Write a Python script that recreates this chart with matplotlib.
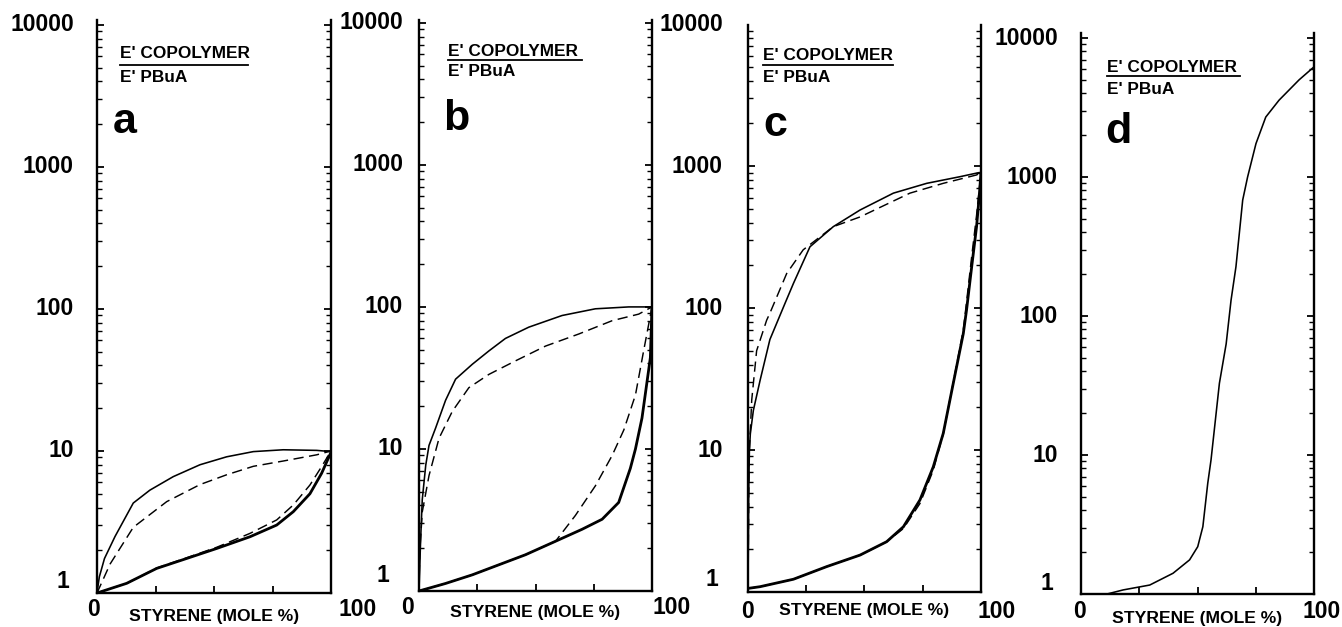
import matplotlib
matplotlib.use("Agg")
import matplotlib.pyplot as plt
from matplotlib.ticker import FixedLocator, LogLocator, NullFormatter, NullLocator

W, H = 1342, 627
plt.rcParams['font.family'] = ['Liberation Sans', 'DejaVu Sans']

# ---------------- data: modulus ratio E'(copolymer)/E'(PBuA) vs styrene mole % ----------------
# panel a
a_up_solid_x = [0, 1, 3.2, 7.7, 15.5, 22.6, 32.6, 44, 55.4, 66.8, 79.6, 93.9, 100]
a_up_solid_y = [1.0, 1.3, 1.75, 2.5, 4.3, 5.3, 6.6, 8.0, 9.1, 9.9, 10.2, 10.1, 9.9]
a_up_dash_x = [0, 5.6, 15.5, 29.8, 44, 55.4, 66.8, 79.6, 93.9, 100]
a_up_dash_y = [1.0, 1.6, 2.9, 4.4, 5.8, 6.8, 7.8, 8.5, 9.4, 10.0]
a_lo_solid_x = [0, 12.7, 25.5, 38.3, 51.2, 65.4, 76.8, 83.9, 91, 96, 100]
a_lo_solid_y = [1.0, 1.17, 1.49, 1.75, 2.06, 2.49, 3.01, 3.74, 5.0, 6.97, 9.8]
a_lo_dash_x = [0, 12.7, 25.5, 38.3, 51.2, 65.4, 76.8, 83.9, 91, 96, 100]
a_lo_dash_y = [1.0, 1.17, 1.5, 1.77, 2.1, 2.63, 3.27, 4.17, 5.76, 7.77, 10.0]

# panel b
b_up_solid_x = [0, 0.7, 1.4, 2.9, 4.3, 7.1, 11.4, 15.7, 22.9, 30, 37.1, 47.1, 61.4, 75.7, 90, 100]
b_up_solid_y = [1.0, 2.3, 4.4, 7.7, 10.6, 14, 22, 31, 39.5, 49, 60, 72, 87, 97, 100, 100]
b_up_dash_x = [0, 0.3, 1.4, 4.3, 8.6, 14.3, 21.4, 30, 41.4, 54.3, 68.6, 82.9, 94.3, 100]
b_up_dash_y = [1.0, 1.85, 3.6, 6.5, 11.9, 18.4, 27, 33.5, 41.7, 53, 64.5, 80, 89, 100]
b_lo_solid_x = [0, 11.4, 22.9, 34.3, 45.7, 58.6, 70, 78.6, 85.7, 90.7, 92.9, 95.7, 97.9, 99.3, 100]
b_lo_solid_y = [1.0, 1.13, 1.30, 1.53, 1.80, 2.24, 2.72, 3.2, 4.2, 7.3, 10, 16.5, 30, 44, 100]
b_lo_dash_x = [0, 11.4, 22.9, 34.3, 45.7, 58.6, 67.1, 75.7, 82.9, 87.9, 92.9, 96.4, 100]
b_lo_dash_y = [1.0, 1.13, 1.30, 1.53, 1.80, 2.24, 3.4, 5.5, 9.0, 13.6, 24, 49, 100]

# panel c
c_up_solid_x = [0, 0.3, 0.6, 1.0, 2.3, 5.2, 9.4, 15.9, 19.5, 26.6, 36.6, 48.1, 62.4, 76.7, 91, 98.9, 100]
c_up_solid_y = [1.0, 5, 10, 13, 19, 31, 60, 108, 149, 270, 374, 490, 644, 755, 841, 897, 900]
c_up_dash_x = [0, 0.3, 0.6, 1.6, 3.7, 8.0, 9.4, 16.6, 23.7, 36.6, 48.1, 69.5, 83.8, 98.1, 100]
c_up_dash_y = [1.0, 5, 10, 22.5, 50, 82, 92, 175, 257, 374, 438, 644, 755, 865, 900]
c_lo_solid_x = [0, 5.2, 19.5, 33.8, 48.1, 59.5, 66.7, 73.8, 79.5, 83.8, 88.1, 92.4, 93.8, 96, 98.1, 99.2, 100]
c_lo_solid_y = [1.06, 1.09, 1.23, 1.51, 1.82, 2.26, 2.88, 4.45, 7.6, 13.1, 29.5, 66, 97, 195, 375, 600, 900]
c_lo_dash_x = [0, 5.2, 19.5, 33.8, 48.1, 59.5, 66.7, 73.8, 79.5, 83.8, 88.1, 92.4, 93.8, 96, 98.1, 100]
c_lo_dash_y = [1.06, 1.09, 1.23, 1.51, 1.82, 2.26, 2.8, 4.2, 7.2, 13, 30, 70, 110, 230, 450, 900]

# panel d
d_solid_x = [0, 8.1, 18.1, 29.5, 39.5, 46.6, 50.1, 52.3, 54.4, 55.8, 59.4, 62.3, 64.4, 66.5,
             69.4, 71.5, 75.1, 79.3, 85, 93.6, 100]
d_solid_y = [1.0, 0.97, 1.07, 1.16, 1.41, 1.76, 2.19, 3.05, 6.26, 9.2, 32.8, 63, 130, 226,
             683, 1000, 1740, 2700, 3570, 5000, 6200]

panel_letters = ['a', 'b', 'c', 'd']
y_tick_values = [1, 10, 100, 1000, 10000]
y_tick_labels = ['1', '10', '100', '1000', '10000']
x_tick_values = [25, 50, 75]
x_end_labels = ['0', '100']
x_title = 'STYRENE (MOLE %)'
ratio_top = "E' COPOLYMER"
ratio_bottom = "E' PBuA"

curves = [
    [(a_lo_solid_x, a_lo_solid_y, 'thick'), (a_lo_dash_x, a_lo_dash_y, 'dash'),
     (a_up_solid_x, a_up_solid_y, 'thin'), (a_up_dash_x, a_up_dash_y, 'dash')],
    [(b_lo_solid_x, b_lo_solid_y, 'thick'), (b_lo_dash_x, b_lo_dash_y, 'dash'),
     (b_up_solid_x, b_up_solid_y, 'thin'), (b_up_dash_x, b_up_dash_y, 'dash')],
    [(c_lo_solid_x, c_lo_solid_y, 'thick'), (c_lo_dash_x, c_lo_dash_y, 'dash'),
     (c_up_solid_x, c_up_solid_y, 'thin'), (c_up_dash_x, c_up_dash_y, 'dash')],
    [(d_solid_x, d_solid_y, 'thin')],
]

# ---------------- layout (pixels) ----------------
layout = [
    dict(left=97, right=331, top=20, bottom=593, ytop=4.035, ylab_dx=23, one_dx=28, one_dy=11,
         zero_dx=-4, hundred_dx=27, xlab_dy=17, title_dy=24,
         frac_x=120, frac_y1=53, frac_ul=65, frac_y2=77, frac_w=128, let_x=113, let_y=133),
    dict(left=419, right=652, top=20, bottom=591, ytop=4.02, ylab_dx=16, one_dx=30, one_dy=16,
         zero_dx=-12, hundred_dx=20, xlab_dy=17, title_dy=21,
         frac_x=448, frac_y1=51, frac_ul=60, frac_y2=71, frac_w=134, let_x=443, let_y=130),
    dict(left=748, right=981, top=25, bottom=592, ytop=3.993, ylab_dx=25, one_dx=30, one_dy=12,
         zero_dx=0, hundred_dx=16, xlab_dy=19, title_dy=19,
         frac_x=763, frac_y1=56, frac_ul=65, frac_y2=78, frac_w=130, let_x=763, let_y=136),
    dict(left=1081, right=1314, top=33, bottom=594, ytop=4.036, ylab_dx=23, one_dx=28, one_dy=11,
         zero_dx=-1, hundred_dx=8, xlab_dy=18, title_dy=25,
         frac_x=1107, frac_y1=67, frac_ul=76, frac_y2=90, frac_w=133, let_x=1105, let_y=143),
]

styles = {
    'thin': dict(color='black', lw=1.15, ls='-'),
    'thick': dict(color='black', lw=2.0, ls='-'),
    'dash': dict(color='black', lw=1.05, ls=(0, (7, 3.8))),
}

fig = plt.figure(figsize=(W / 100, H / 100), dpi=100)
fig.patch.set_facecolor('white')


def fx(px):
    return px / W


def fy(py):
    return 1 - py / H


for i, (lay, panel_curves) in enumerate(zip(layout, curves)):
    ax = fig.add_axes([fx(lay['left']), fy(lay['bottom']),
                       (lay['right'] - lay['left']) / W, (lay['bottom'] - lay['top']) / H])
    ax.set_yscale('log')
    ax.set_xlim(0, 100)
    ax.set_ylim(1, 10 ** lay['ytop'])
    ax.set_facecolor('none')

    for x, y, st in panel_curves:
        ax.plot(x, y, solid_capstyle='round', **styles[st], zorder=3)

    for side in ('left', 'right', 'bottom'):
        ax.spines[side].set_linewidth(1.7)
        ax.spines[side].set_color('black')
    ax.spines['top'].set_visible(False)

    ax.xaxis.set_major_locator(FixedLocator(x_tick_values))
    ax.xaxis.set_minor_locator(NullLocator())
    ax.yaxis.set_major_locator(FixedLocator(y_tick_values))
    ax.yaxis.set_minor_locator(LogLocator(base=10, subs=range(2, 10)))
    ax.yaxis.set_minor_formatter(NullFormatter())
    ax.tick_params(axis='both', which='both', direction='in', color='black',
                   labelleft=False, labelbottom=False, left=True, right=True,
                   top=False, bottom=True)
    ax.tick_params(which='major', length=5, width=1.3)
    ax.tick_params(which='minor', length=3.5, width=1.0)

    # y tick labels, right aligned left of the axis
    for v, lab in zip(y_tick_values, y_tick_labels):
        if v == 1:
            dx, dy = lay['one_dx'], lay['one_dy']
        else:
            dx, dy = lay['ylab_dx'], 0
        ax.annotate(lab, xy=(0, v), xycoords=('axes fraction', 'data'),
                    xytext=(-dx, dy), textcoords='offset pixels',
                    ha='right', va='center', fontsize=16.5, fontweight='bold',
                    annotation_clip=False)

    # x end labels and title
    ax.annotate(x_end_labels[0], xy=(0, 0), xycoords='axes fraction',
                xytext=(lay['zero_dx'], -lay['xlab_dy']), textcoords='offset pixels',
                ha='center', va='center', fontsize=16.5, fontweight='bold')
    ax.annotate(x_end_labels[1], xy=(1, 0), xycoords='axes fraction',
                xytext=(lay['hundred_dx'], -lay['xlab_dy']), textcoords='offset pixels',
                ha='center', va='center', fontsize=16.5, fontweight='bold')
    ax.annotate(x_title, xy=(0.5, 0), xycoords='axes fraction',
                xytext=(0, -lay['title_dy']), textcoords='offset pixels',
                ha='center', va='center', fontsize=12.6, fontweight='bold')

    # modulus ratio caption and panel letter
    fig.text(fx(lay['frac_x']), fy(lay['frac_y1']), ratio_top, ha='left', va='center',
             fontsize=12.4, fontweight='bold')
    fig.add_artist(plt.Line2D([fx(lay['frac_x']), fx(lay['frac_x'] + lay['frac_w'])],
                              [fy(lay['frac_ul']), fy(lay['frac_ul'])],
                              color='black', lw=1.3))
    fig.text(fx(lay['frac_x']), fy(lay['frac_y2']), ratio_bottom, ha='left', va='center',
             fontsize=12.4, fontweight='bold')
    fig.text(fx(lay['let_x']), fy(lay['let_y']), panel_letters[i], ha='left', va='baseline',
             fontsize=31, fontweight='bold')

fig.savefig('out.png', dpi=100, facecolor='white')
